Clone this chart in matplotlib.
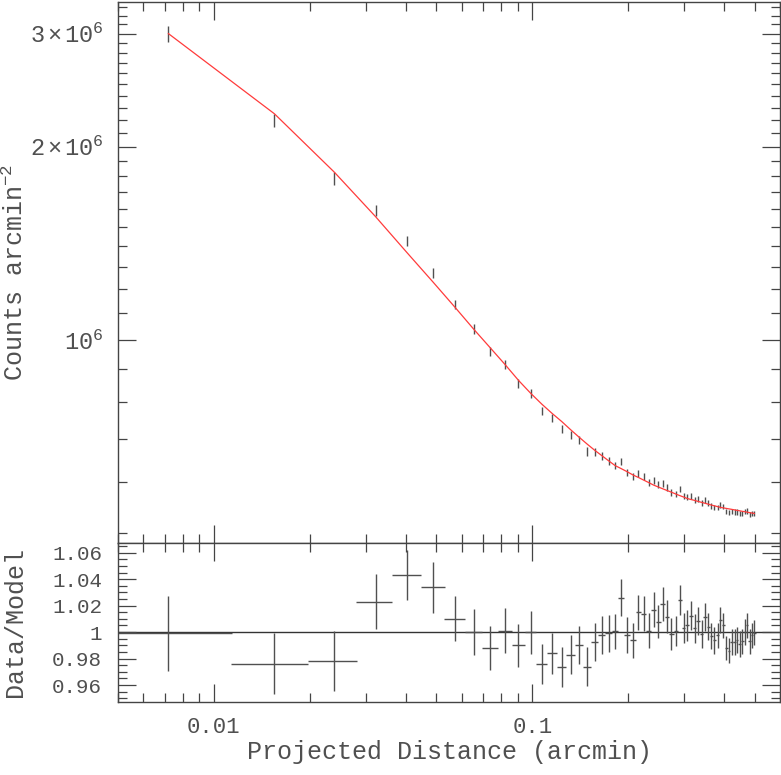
import matplotlib
matplotlib.use("Agg")
import matplotlib.pyplot as plt
from matplotlib.ticker import FixedLocator, FixedFormatter, NullFormatter, LogLocator
import numpy as np

# Bin centres (arcmin) and half width of each annulus
radius = [0.0072, 0.0155, 0.0239, 0.0322, 0.0405, 0.0489, 0.0572, 0.0655, 0.0738, 0.0822,
          0.0905, 0.0988, 0.1072, 0.1155, 0.1238, 0.1322, 0.1405, 0.1488, 0.1571, 0.1655,
          0.1738, 0.1821, 0.1904, 0.1988, 0.2071, 0.2154, 0.2237, 0.2321, 0.2404, 0.2487,
          0.2570, 0.2654, 0.2737, 0.2820, 0.2903, 0.2987, 0.3070, 0.3153, 0.3236, 0.3320,
          0.3403, 0.3486, 0.3569, 0.3653, 0.3736, 0.3819, 0.3902, 0.3986, 0.4069, 0.4152,
          0.4235, 0.4319, 0.4402, 0.4485, 0.4568, 0.4652, 0.4735, 0.4818, 0.4901, 0.4985]
bin_half = 0.0042

# Model surface brightness (counts arcmin^-2)
model = [3.00e6, 2.25e6, 1.825e6, 1.556e6, 1.366e6, 1.229e6, 1.124e6, 1.039e6, 9.72e5, 9.15e5,
         8.65e5, 8.26e5, 7.94e5, 7.68e5, 7.46e5, 7.24e5, 7.05e5, 6.88e5, 6.73e5, 6.60e5,
         6.48e5, 6.37e5, 6.30e5, 6.23e5, 6.16e5, 6.105e5, 6.048e5, 5.994e5, 5.940e5, 5.900e5,
         5.861e5, 5.824e5, 5.790e5, 5.754e5, 5.721e5, 5.691e5, 5.660e5, 5.640e5, 5.622e5, 5.601e5,
         5.583e5, 5.565e5, 5.547e5, 5.529e5, 5.514e5, 5.498e5, 5.483e5, 5.473e5, 5.463e5, 5.453e5,
         5.444e5, 5.434e5, 5.424e5, 5.416e5, 5.406e5, 5.399e5, 5.389e5, 5.381e5, 5.373e5, 5.365e5]

# Data / model ratio and its error
ratio = [0.999, 0.976, 0.978, 1.023, 1.043, 1.034, 1.010, 1.000, 0.988, 1.001,
         0.990, 1.000, 0.976, 0.984, 0.974, 0.983, 0.990, 0.974, 0.9925, 0.998,
         0.999, 1.0005, 1.026, 0.998, 0.994, 1.015, 1.014, 1.001, 1.017, 1.008,
         1.021, 1.0115, 0.9985, 1.001, 1.024, 1.003, 1.005, 1.0125, 1.003, 1.0085,
         0.9985, 1.0115, 1.004, 0.997, 0.994, 0.9975, 1.009, 1.005, 0.988, 0.986,
         0.9925, 0.9925, 0.994, 0.991, 0.993, 1.000, 1.005, 0.993, 0.9975, 0.9995]
ratio_err = [0.028, 0.023, 0.0226, 0.0207, 0.0189, 0.0192, 0.0170, 0.0176, 0.0163, 0.0170,
             0.0163, 0.0162, 0.0151, 0.0153, 0.0151, 0.0146, 0.0143, 0.0150, 0.0145, 0.0145,
             0.0141, 0.0133, 0.0138, 0.0134, 0.0132, 0.0131, 0.0132, 0.0132, 0.0133, 0.0128,
             0.0128, 0.0124, 0.0119, 0.0113, 0.0113, 0.0113, 0.0116, 0.0112, 0.0109, 0.0108,
             0.0106, 0.0103, 0.0102, 0.0099, 0.0102, 0.0097, 0.0097, 0.0098, 0.0094, 0.0092,
             0.0101, 0.0101, 0.0097, 0.0099, 0.0096, 0.0098, 0.0098, 0.0096, 0.0094, 0.0093]

# data points follow from model and ratio
counts = np.array(model) * np.array(ratio)
counts_err = np.array(model) * np.array(ratio_err)

plt.rcParams['font.family'] = ['Liberation Mono', 'DejaVu Sans']
plt.rcParams['mathtext.fontset'] = 'custom'
plt.rcParams['mathtext.rm'] = 'Liberation Mono'
plt.rcParams['mathtext.it'] = 'Liberation Mono'

fg = '#444444'
txt = '#505050'

fig = plt.figure(figsize=(7.81, 7.75), dpi=100)
ax1 = fig.add_axes([0.1511, 0.2997, 0.8476, 0.6977])
ax2 = fig.add_axes([0.1511, 0.0938, 0.8476, 0.2059], sharex=ax1)

# Top panel: profile + model
ax1.plot(radius, model, color='#ff3b3b', linewidth=0.9, zorder=3)
ax1.errorbar(radius, counts, yerr=counts_err, fmt='none', ecolor='#505050',
             elinewidth=1.0, capsize=0, zorder=2)

# Bottom panel: ratio
ax2.axhline(1.0, color='#333333', linewidth=1.0, zorder=1)
ax2.errorbar(radius, ratio, xerr=bin_half, yerr=ratio_err, fmt='none',
             ecolor='#505050', elinewidth=1.0, capsize=0, zorder=2)

ax1.set_xscale('log')
ax1.set_yscale('log')
ax1.set_xlim(0.005, 0.6)
ax1.set_ylim(4.83e5, 3.36e6)
ax2.set_ylim(0.947, 1.0675)

for ax in (ax1, ax2):
    for s in ax.spines.values():
        s.set_color(fg)
        s.set_linewidth(1.0)
    ax.tick_params(which='both', direction='in', top=True, right=True,
                   color=fg, labelcolor=txt, width=0.9)
    ax.tick_params(which='major', length=13)
    ax.tick_params(which='minor', length=6.5)

# x ticks
ax2.xaxis.set_major_locator(FixedLocator([0.01, 0.1]))
ax2.xaxis.set_major_formatter(FixedFormatter(['0.01', '0.1']))
ax2.xaxis.set_minor_locator(LogLocator(base=10, subs=np.arange(2, 10)))
ax2.xaxis.set_minor_formatter(NullFormatter())
ax1.tick_params(axis='x', labelbottom=False)
ax2.tick_params(axis='x', labelsize=16, pad=10.5)

# top panel y ticks
ax1.yaxis.set_major_locator(FixedLocator([1e6, 2e6, 3e6]))
ax1.yaxis.set_major_formatter(FixedFormatter([r'$10^{6}$', r'$2\times10^{6}$', r'$3\times10^{6}$']))
minor_y = [v for v in np.arange(5e5, 3.35e6, 1e5) if v not in (1e6, 2e6, 3e6)]
ax1.yaxis.set_minor_locator(FixedLocator(minor_y))
ax1.yaxis.set_minor_formatter(NullFormatter())
ax1.tick_params(axis='y', labelsize=17, pad=10.5)

# bottom panel y ticks
ax2.yaxis.set_major_locator(FixedLocator([0.96, 0.98, 1.0, 1.02, 1.04, 1.06]))
ax2.yaxis.set_major_formatter(FixedFormatter(['0.96', '0.98', '1', '1.02', '1.04', '1.06']))
ax2.yaxis.set_minor_locator(FixedLocator(np.arange(0.950, 1.066, 0.005)))
ax2.yaxis.set_minor_formatter(NullFormatter())
ax2.tick_params(axis='y', labelsize=15, pad=11.5)

fig.text(0.019, 0.6485, r'Counts arcmin$^{-2}$', rotation=90, ha='center', va='center',
         fontsize=18, color=txt)
fig.text(0.019, 0.1968, 'Data/Model', rotation=90, ha='center', va='center',
         fontsize=18, color=txt)
fig.text(0.575, 0.0297, 'Projected Distance (arcmin)', ha='center', va='center',
         fontsize=18, color=txt)

fig.savefig('out.png', dpi=100)
